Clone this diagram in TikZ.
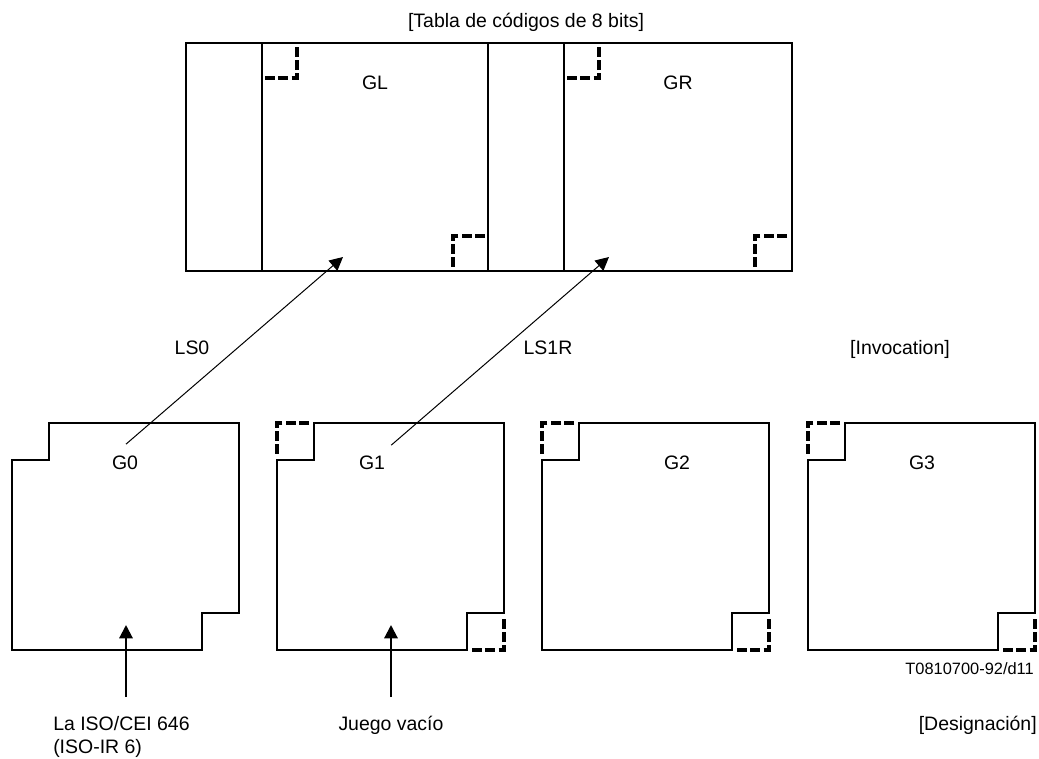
\documentclass[tikz,border=0pt]{standalone}
\usepackage{fontspec}
\setmainfont{Liberation Sans}
\usetikzlibrary{arrows.meta}

\tikzset{
  frame/.style={line width=1.2pt},
  corner/.style={line width=2.6pt, dash pattern=on 7.5pt off 2.5pt},
  lbl/.style={anchor=base, inner sep=0pt, font=\fontsize{14.6}{17.5}\selectfont},
  invoke/.style={line width=0.75pt, -{Triangle[length=10pt,width=10pt]}},
  designate/.style={line width=1.6pt, -{Triangle[length=10pt,width=10pt]}},
}

\begin{document}
\begin{tikzpicture}[x=0.75pt,y=-0.75pt]
\useasboundingbox (0,0) rectangle (1039,758);

% 8-bit code table
\node[lbl] (title) at (526,27) {[Tabla de códigos de 8 bits]};
\draw[frame] (186,43) rectangle (792,271);
\foreach \x in {262,488,564}
  \draw[frame] (\x,43) -- (\x,271);
\node[lbl] (lblGL) at (375,89.5) {GL};
\node[lbl] (lblGR) at (678,89.5) {GR};

% corner marks in GL and GR
\foreach \x in {262,564} {
  \draw[corner] (\x+3,78) -- (\x+35,78) -- (\x+35,46);
  \draw[corner] (\x+223,236) -- (\x+191,236) -- (\x+191,268);
}

% invocation
\coordinate (tipGL) at (343,257);
\coordinate (tipGR) at (609,257);
\node[lbl] (ls0) at (192,354) {LS0};
\node[lbl] (ls1r) at (548,354) {LS1R};
\node[lbl] (invoc) at (900,354) {[Invocation]};

% G0 to G3
\foreach \xl/\xg/\n in {12/125/0, 277/372/1, 542/677/2, 808/922/3} {
  \draw[frame] (\xl+37,423) -- (\xl+227,423) -- (\xl+227,613) -- (\xl+190,613)
    -- (\xl+190,650) -- (\xl,650) -- (\xl,460) -- (\xl+37,460) -- cycle;
  \node[lbl] (lblG\n) at (\xg,469) {G\n};
}
\foreach \xl in {277,542,808} {
  \draw[corner] (\xl+32,423) -- (\xl,423) -- (\xl,455);
  \draw[corner] (\xl+195,650) -- (\xl+227,650) -- (\xl+227,618);
}

\draw[invoke] ([shift={(1,-11)}]lblG0.north) -- (tipGL);
\draw[invoke] ([shift={(6,-10)}]lblG1.north east) -- (tipGR);

% designation
\coordinate (inG0) at (126,625);
\coordinate (inG1) at (391,625);
\node[lbl, anchor=north west, align=left] (iso) at (53,716) {La ISO/CEI 646\\(ISO-IR 6)};
\node[lbl] (empty) at (391,730) {Juego vacío};
\node[lbl, anchor=base east] (desig) at (1037,730) {[Designación]};
\node[lbl, anchor=base east, font=\fontsize{12.3}{14.8}\selectfont] (figref) at (1034,674) {T0810700-92/d11};

\coordinate (isotop) at ([yshift=14.25pt]iso.north);
\draw[designate] (isotop -| inG0) -- (inG0);
\draw[designate] ([yshift=24.75pt]empty.base) -- (inG1);

\end{tikzpicture}
\end{document}
